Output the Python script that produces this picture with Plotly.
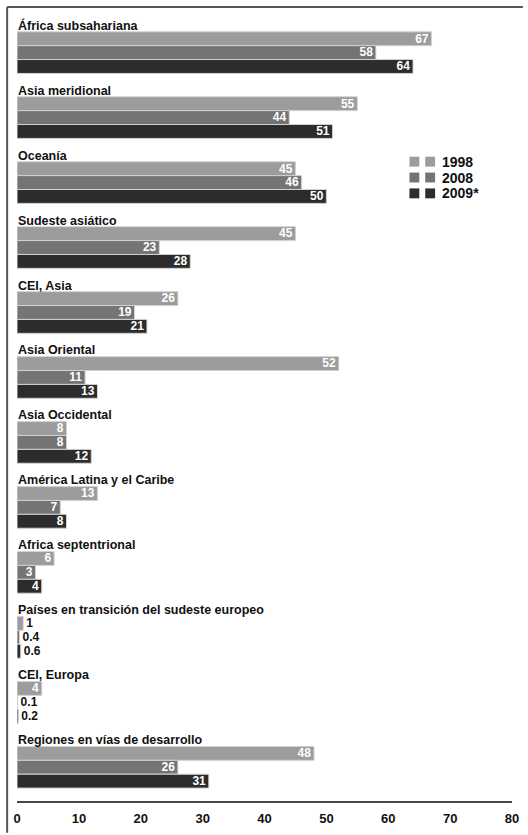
import plotly.graph_objects as go

# ---------------- data ----------------
regions = [
    "África subsahariana",
    "Asia meridional",
    "Oceanía",
    "Sudeste asiático",
    "CEI, Asia",
    "Asia Oriental",
    "Asia Occidental",
    "América Latina y el Caribe",
    "Africa septentrional",
    "Países en transición del sudeste europeo",
    "CEI, Europa",
    "Regiones en vías de desarrollo",
]
v1998 = [67, 55, 45, 45, 26, 52, 8, 13, 6, 1, 4, 48]
v2008 = [58, 44, 46, 23, 19, 11, 8, 7, 3, 0.4, 0.1, 26]
v2009 = [64, 51, 50, 28, 21, 13, 12, 8, 4, 0.6, 0.2, 31]
series_names = ["1998", "2008", "2009*"]
x_ticks = [0, 10, 20, 30, 40, 50, 60, 70, 80]

# ---------------- style ----------------
colors = ["#9c9c9c", "#747474", "#2c2c2c"]
FONT = "Liberation Sans, Arial, Helvetica, sans-serif"
W, H = 528, 835
ML, MR, MT, MB = 17, 9, 10, 27
PW = W - ML - MR
PH = H - MT - MB


def px2x(px):
    return (px - ML) / PW


def py2y(py):
    return (H - MB - py) / PH


fig = go.Figure()
for name, vals, col in zip(series_names, [v1998, v2008, v2009], colors):
    fig.add_trace(go.Bar(
        name=name,
        y=regions,
        x=vals,
        orientation="h",
        marker=dict(color=col, line=dict(color="#d2d2d2", width=1)),
        text=[f"{v:g}" for v in vals],
        textposition=["inside" if v >= 3 else "outside" for v in vals],
        textangle=0,
        insidetextanchor="end",
        insidetextfont=dict(family=FONT, size=12.5, color="white", weight="bold"),
        outsidetextfont=dict(family=FONT, size=12, color="#111111", weight="bold"),
        constraintext="none",
        cliponaxis=False,
        showlegend=False,
    ))

annotations = []
for r in regions:
    annotations.append(dict(
        x=0, y=r, xref="x", yref="y", text=r, showarrow=False,
        xanchor="left", yanchor="bottom", yshift=18, xshift=-1,
        font=dict(family=FONT, size=12.5, color="#111111", weight="bold"),
    ))

shapes = []
# frame lines
shapes.append(dict(type="line", xref="paper", yref="paper",
                   x0=px2x(7), y0=py2y(840), x1=px2x(7), y1=py2y(7),
                   line=dict(color="#555555", width=2)))
shapes.append(dict(type="line", xref="paper", yref="paper",
                   x0=px2x(7), y0=py2y(7), x1=px2x(530), y1=py2y(7),
                   line=dict(color="#555555", width=2)))

# legend (two swatches per entry)
for i, (name, col) in enumerate(zip(series_names, colors)):
    top = 158 + i * 16
    for left in (415, 431):
        shapes.append(dict(type="rect", xref="paper", yref="paper",
                           x0=px2x(left), x1=px2x(left + 10),
                           y0=py2y(top + 10), y1=py2y(top),
                           fillcolor=col, line=dict(width=0)))
    annotations.append(dict(
        x=px2x(446), y=py2y(top + 5), xref="paper", yref="paper",
        text=name, showarrow=False, xanchor="left", yanchor="middle",
        font=dict(family=FONT, size=14, color="#111111", weight="bold"),
    ))

fig.update_layout(
    width=W, height=H,
    margin=dict(l=ML, r=MR, t=MT, b=MB),
    paper_bgcolor="white", plot_bgcolor="white",
    barmode="group", bargap=0.359, bargroupgap=0,
    showlegend=False,
    annotations=annotations,
    shapes=shapes,
    uniformtext=dict(minsize=12, mode="show"),
    xaxis=dict(
        range=[0, 80], tickvals=x_ticks, ticktext=[str(t) for t in x_ticks],
        showgrid=False, zeroline=False, ticks="",
        showline=True, linecolor="#474747", linewidth=2,
        tickfont=dict(family=FONT, size=13, color="#111111", weight="bold"),
        ticklabelstandoff=4,
        fixedrange=True,
    ),
    yaxis=dict(
        type="category", categoryorder="array", categoryarray=regions,
        range=[11.519, -0.656], showticklabels=False, showgrid=False,
        zeroline=False, ticks="", fixedrange=True,
    ),
)

fig.write_html("out.html")
